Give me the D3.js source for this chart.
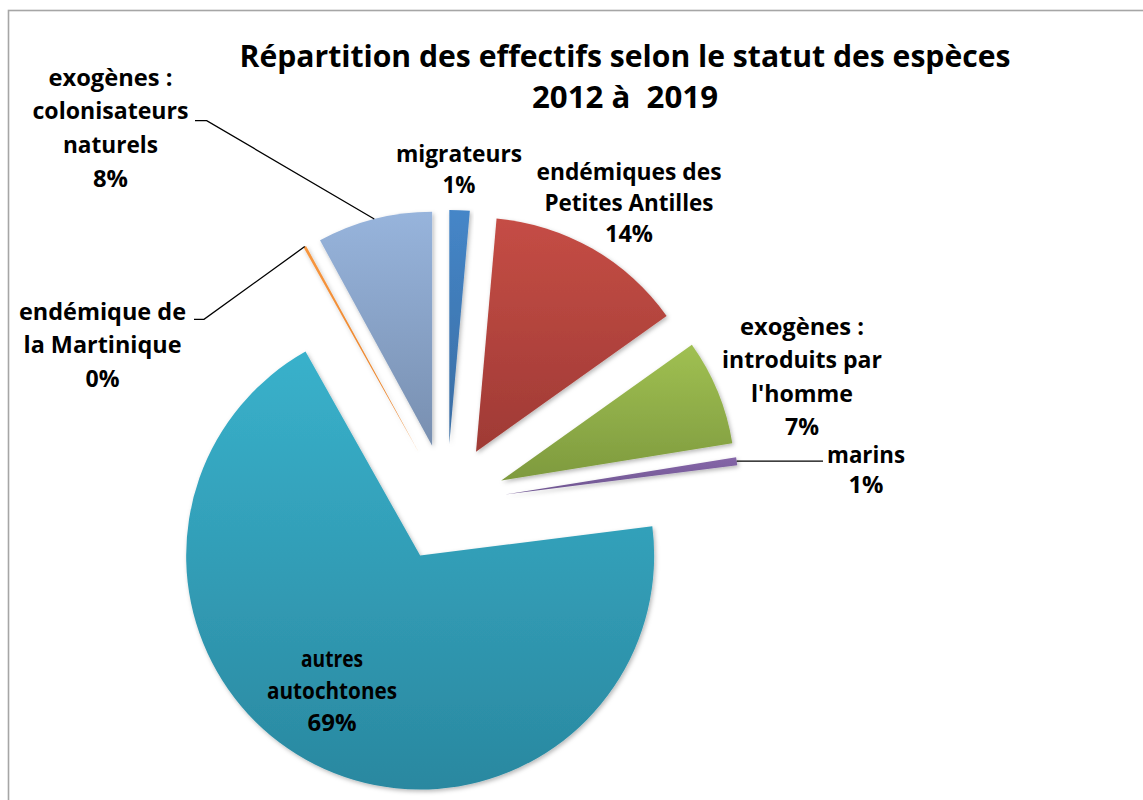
<!DOCTYPE html>
<html><head><meta charset="utf-8">
<script src="https://cdn.jsdelivr.net/npm/d3@7"></script>
<style>
html,body{margin:0;padding:0;background:#fff;}
svg text{font-family:"Open Sans",Lato,sans-serif;font-weight:700;fill:#000;white-space:pre;}
</style>
</head><body>
<svg id="chart" width="1143" height="800"></svg>
<script>
// ---- data ----
const titleLines = ["Répartition des effectifs selon le statut des espèces", "2012 à  2019"];
const categories = ["migrateurs", "endémiques des Petites Antilles", "exogènes : introduits par l'homme", "marins", "autres autochtones", "endémique de la Martinique", "exogènes : colonisateurs naturels"];
const labelLines = [["migrateurs"], ["endémiques des", "Petites Antilles"], ["exogènes :", "introduits par", "l'homme"], ["marins"], ["autres", "autochtones"], ["endémique de", "la Martinique"], ["exogènes :", "colonisateurs", "naturels"]];
const values = [1.4, 13.75, 7.3, 0.55, 68.85, 0.2, 7.95];

// ---- styles / layout ----
const colorsTop    = ["#4586c8", "#c54d45", "#a0c052", "#8566a8", "#39b1cb", "#f7963f", "#97b4dc"];
const colorsBottom = ["#3a6da3", "#9f3a35", "#7e9a3e", "#6e5590", "#2a88a0", "#e57f27", "#788fb0"];
const labelLayout = [
  {x:459,   y:161.7, lh:31.6, w:[126,33]},
  {x:629,   y:180,   lh:30.8, w:[185,169,48]},
  {x:802,   y:335,   lh:33.3, w:[124,160,102,34]},
  {x:866,   y:463.3, lh:30,   w:[78,35]},
  {x:332,   y:667,   lh:32,   w:[62,130,49]},
  {x:102.5, y:320,   lh:33.3, w:[167,158,34]},
  {x:110.5, y:85.5,  lh:33.9, w:[124,156,95,35]}
];
const leaderPts = {3: [[823, null]], 5: [[204,319.3],[194,319.3]], 6: [[206.7,120.7],[195,120.7]]};

const svg = d3.select("#chart");
svg.append("rect").attr("x",8.5).attr("y",10.5).attr("width",1300).attr("height",1000)
  .attr("fill","#fff").attr("stroke","#a6a6a6").attr("stroke-width",1.6);

const defs = svg.append("defs");
const filt = defs.append("filter").attr("id","shadow").attr("x","-20%").attr("y","-20%").attr("width","140%").attr("height","140%");
filt.append("feDropShadow").attr("dx",1.5).attr("dy",2).attr("stdDeviation",2.2)
  .attr("flood-color","#000").attr("flood-opacity",0.28);

values.forEach((v,i) => {
  const g = defs.append("linearGradient").attr("id","grad"+i)
    .attr("x1",0).attr("y1",0).attr("x2",0).attr("y2",1);
  g.append("stop").attr("offset","0%").attr("stop-color",colorsTop[i]);
  g.append("stop").attr("offset","100%").attr("stop-color",colorsBottom[i]);
});

// title
const title = svg.append("g");
const titleWidths = [771, 186];
titleLines.forEach((t,i) => {
  title.append("text").attr("x",625).attr("y",67 + i*41).attr("text-anchor","middle")
    .style("font-size","29.5px").attr("textLength",titleWidths[i]).attr("lengthAdjust","spacingAndGlyphs").text(t);
});

// pie
const cx = 446.7, cy = 502.9, R = 234, explode = 59;
const pie = d3.pie().sort(null).value(d => d);
const arcs = pie(values);
const arc = d3.arc().innerRadius(0).outerRadius(R);

const gPie = svg.append("g").attr("transform",`translate(${cx},${cy})`);
const fmt = v => Math.round(v) + "%";

arcs.forEach((a,i) => {
  const mid = (a.startAngle + a.endAngle)/2;
  a.ox = Math.sin(mid)*explode; a.oy = -Math.cos(mid)*explode; a.mid = mid;
});

gPie.selectAll("path.slice").data(arcs).join("path")
  .attr("class","slice")
  .attr("transform", d => `translate(${d.ox},${d.oy})`)
  .attr("d", arc)
  .attr("fill", (d,i) => `url(#grad${i})`)
  .attr("filter","url(#shadow)");

// leader lines
Object.keys(leaderPts).forEach(k => {
  const a = arcs[+k];
  const sx = cx + a.ox + Math.sin(a.mid)*R;
  const sy = cy + a.oy - Math.cos(a.mid)*R;
  const pts = [[sx,sy]].concat(leaderPts[k].map(p => [p[0], p[1] === null ? sy : p[1]]));
  svg.append("path").attr("d", d3.line()(pts)).attr("fill","none")
    .attr("stroke","#000").attr("stroke-width",1.3);
});

// labels
labelLines.forEach((lines,i) => {
  const L = labelLayout[i];
  const all = lines.concat([fmt(values[i])]);
  const g = svg.append("g");
  all.forEach((t,j) => {
    g.append("text").attr("x",L.x).attr("y",L.y + j*L.lh).attr("text-anchor","middle")
      .style("font-size","24px").attr("textLength",L.w[j]).attr("lengthAdjust","spacingAndGlyphs").text(t);
  });
});
</script>
</body></html>
